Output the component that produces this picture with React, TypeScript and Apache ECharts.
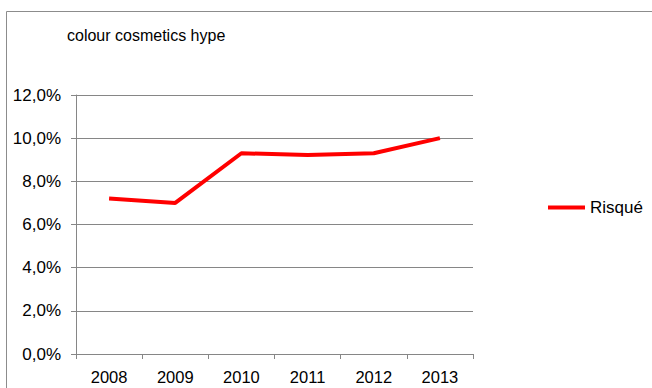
import React, { useEffect, useRef } from "react";
import * as echarts from "echarts";

const categories = ["2008", "2009", "2010", "2011", "2012", "2013"];
const risqueValues = [7.2, 7.0, 9.3, 9.22, 9.3, 10.0];
const seriesName = "Risqué";
const titleText = "colour cosmetics hype";

export default function App() {
  const ref = useRef<HTMLDivElement>(null);
  useEffect(() => {
    if (!ref.current) return;
    const chart = echarts.init(ref.current, null, { renderer: "svg" });
    const font = "'Liberation Sans', Arial, sans-serif";
    chart.setOption({
      animation: false,
      backgroundColor: "#ffffff",
      textStyle: { fontFamily: font },
      title: {
        text: titleText,
        left: 62,
        top: 22,
        textStyle: { fontFamily: font, fontSize: 16, fontWeight: "normal", color: "#000" },
      },
      graphic: [
        {
          type: "rect",
          shape: { x: 6.5, y: 11.5, width: 700, height: 420 },
          style: { fill: "none", stroke: "#8c8c8c", lineWidth: 1 },
          silent: true,
          z: -1,
        },
      ],
      legend: {
        left: 543,
        top: 194,
        itemWidth: 37,
        itemHeight: 4,
        icon: "rect",
        textStyle: { fontFamily: font, fontSize: 17, color: "#000" },
        data: [seriesName],
      },
      grid: { left: 76, right: 179, top: 95, bottom: 34 },
      xAxis: {
        type: "category",
        data: categories,
        boundaryGap: true,
        axisLine: { lineStyle: { color: "#868686", width: 1 } },
        axisTick: { show: true, length: 5, lineStyle: { color: "#868686" } },
        axisLabel: { fontFamily: font, fontSize: 16.5, color: "#000", margin: 14 },
      },
      yAxis: {
        type: "value",
        min: 0,
        max: 12,
        interval: 2,
        axisLine: { show: true, lineStyle: { color: "#868686", width: 1 } },
        axisTick: { show: true, length: 5, lineStyle: { color: "#868686" } },
        splitLine: { lineStyle: { color: "#868686", width: 1 } },
        axisLabel: {
          fontFamily: font,
          fontSize: 17,
          color: "#000",
          margin: 15,
          formatter: (v: number) => v.toFixed(1).replace(".", ",") + "%",
        },
      },
      series: [
        {
          name: seriesName,
          type: "line",
          data: risqueValues,
          symbol: "none",
          lineStyle: { color: "#ff0000", width: 4 },
          itemStyle: { color: "#ff0000" },
        },
      ],
    });
    return () => chart.dispose();
  }, []);
  return <div ref={ref} style={{ width: 652, height: 388, position: "absolute", left: 0, top: 0 }} />;
}
